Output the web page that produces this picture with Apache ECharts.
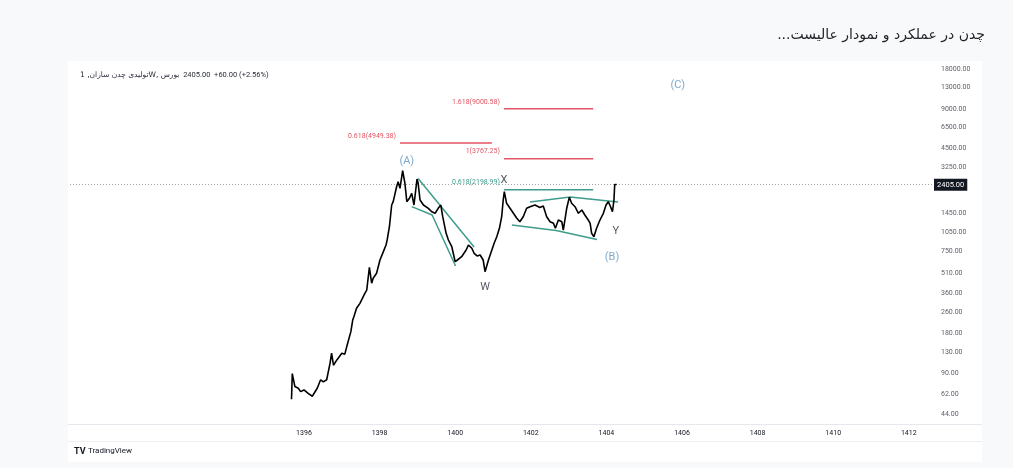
<!DOCTYPE html>
<html>
<head>
<meta charset="utf-8">
<script src="https://cdn.jsdelivr.net/npm/echarts@6/dist/echarts.min.js"></script>
<style>
  html, body { margin: 0; padding: 0; background: #f8f9fa; }
  #chart { width: 1013px; height: 468px; }
</style>
</head>
<body>
<div id="chart"></div>
<script>
// weekly close, solar hijri year on x, price on a log scale
const years = [
  1395.67, 1395.69, 1395.76, 1395.85, 1395.91, 1396.00, 1396.11, 1396.22, 1396.27, 1396.35,
  1396.44, 1396.51, 1396.60, 1396.69, 1396.73, 1396.78, 1396.87, 1397.00, 1397.08, 1397.13,
  1397.17, 1397.24, 1397.29, 1397.32, 1397.39, 1397.48, 1397.53, 1397.61, 1397.66, 1397.73,
  1397.79, 1397.83, 1397.92, 1398.01, 1398.10, 1398.17, 1398.20, 1398.26, 1398.32, 1398.36,
  1398.41, 1398.45, 1398.49, 1398.54, 1398.61, 1398.67, 1398.72, 1398.79, 1398.85, 1398.91,
  1398.99, 1399.02, 1399.07, 1399.16, 1399.29, 1399.38, 1399.47, 1399.55, 1399.62, 1399.67,
  1399.76, 1399.82, 1399.91, 1400.00, 1400.06, 1400.17, 1400.29, 1400.35, 1400.44, 1400.50,
  1400.58, 1400.66, 1400.74, 1400.79, 1400.88, 1400.97, 1401.03, 1401.10, 1401.17, 1401.23,
  1401.27, 1401.30, 1401.36, 1401.45, 1401.54, 1401.63, 1401.71, 1401.80, 1401.89, 1401.98,
  1402.11, 1402.24, 1402.33, 1402.42, 1402.51, 1402.60, 1402.65, 1402.73, 1402.82, 1402.86,
  1402.95, 1403.02, 1403.08, 1403.17, 1403.26, 1403.35, 1403.43, 1403.52, 1403.57, 1403.61,
  1403.67, 1403.74, 1403.83, 1403.92, 1403.99, 1404.05, 1404.11, 1404.16, 1404.20, 1404.22,
  1404.27
]
const prices = [
  57, 89, 71, 69, 65, 67, 63, 60, 61, 69,
  80, 77, 80, 107, 127, 103, 113, 127, 125, 142,
  147, 185, 227, 240, 278, 303, 294, 361, 382, 568,
  430, 469, 512, 645, 746, 838, 914, 1152, 1682, 1782,
  1733, 2314, 2526, 2251, 3059, 2456, 1782, 1891, 2063, 1682,
  2647, 2456, 1836, 1682, 1588, 1497, 1456, 1588, 1682, 1372,
  1027, 914, 813, 626, 645, 683, 768, 838, 791, 725,
  692, 704, 645, 526, 645, 768, 863, 968, 1121, 1372,
  1836, 2122, 1733, 1588, 1456, 1334, 1258, 1372, 1588, 1633,
  1680, 1610, 1650, 1372, 1258, 1223, 1121, 1295, 1258, 1088,
  1588, 1924, 1733, 1633, 1456, 1542, 1413, 1295, 1223, 1027,
  968, 1121, 1295, 1456, 1682, 1782, 1633, 1497, 1836, 2405,
  2405
]
const lastPrice = 2405
const priceTicks = [44, 62, 90, 130, 180, 260, 360, 510, 750, 1050, 1450, 3250, 4500, 6500, 9000, 13000, 18000]
const yearTicks = [1396, 1398, 1400, 1402, 1404, 1406, 1408, 1410, 1412]

// fibonacci levels drawn on the chart
const fibLabels = ['0.618(4949.38)', '1.618(9000.58)', '1(3767.25)', '0.618(2198.99)']
const fibValues = [4949.38, 9000.58, 3767.25, 2198.99]
const fibStart = [1398.54, 1401.29, 1401.29, 1401.29]
const fibEnd = [1400.97, 1403.65, 1403.65, 1403.65]

// trend lines [year, price]
const trendAWUpper = [[1399.02, 2670], [1400.50, 809]]
const trendAWLower = [[1398.85, 1634], [1399.39, 1413], [1400.01, 581]]
const trendBUpper = [[1401.98, 1773], [1403.04, 1934], [1404.31, 1773]]
const trendBLower = [[1401.50, 1187], [1402.67, 1079], [1403.75, 922]]

// wave labels
const waveNames = ['(A)', 'X', 'W', 'Y', '(B)', '(C)']
const waveYears = [1398.72, 1401.29, 1400.79, 1404.25, 1404.15, 1405.89]
const wavePrices = [3622, 2600, 403, 1069, 679, 13620]

const lg = Math.log10
const red = '#e25563'
const green = '#3f9c8c'
const blue = '#5f93bd'

const chart = echarts.init(document.getElementById('chart'))

const series = [
  {
    type: 'line',
    data: years.map((y, i) => [y, lg(prices[i])]),
    symbol: 'none',
    lineStyle: { color: '#000', width: 1.6 },
    z: 5,
    markLine: {
      silent: true,
      symbol: 'none',
      data: [{ yAxis: lg(lastPrice) }],
      lineStyle: { type: [1, 2], color: '#a0a3ab', width: 1 },
      label: {
        position: 'end',
        distance: 1,
        formatter: lastPrice.toFixed(2),
        color: '#fff',
        backgroundColor: '#131722',
        padding: [2, 3],
        fontSize: 7.5,
        fontFamily: 'Roboto'
      }
    }
  }
]

fibLabels.forEach((txt, i) => {
  const c = i === 3 ? green : red
  series.push({
    type: 'line',
    symbol: 'circle',
    symbolSize: 0.1,
    showSymbol: true,
    itemStyle: { color: c },
    lineStyle: { color: c, width: 1.5 },
    data: [
      {
        value: [fibStart[i], lg(fibValues[i])],
        label: {
          show: true, position: 'left', distance: 4, offset: [0, -7],
          formatter: txt, color: c, fontSize: 7, fontFamily: 'Roboto'
        }
      },
      [fibEnd[i], lg(fibValues[i])]
    ]
  })
})

;[trendAWUpper, trendAWLower, trendBUpper, trendBLower].forEach(pts => {
  series.push({
    type: 'line',
    symbol: 'none',
    lineStyle: { color: green, width: 1.5 },
    data: pts.map(p => [p[0], lg(p[1])])
  })
})

series.push({
  type: 'scatter',
  symbolSize: 0,
  data: waveNames.map((n, i) => ({
    value: [waveYears[i], lg(wavePrices[i])],
    label: {
      show: true, position: 'inside', formatter: n,
      color: n.startsWith('(') ? blue : '#2a2e39',
      fontSize: 11, fontFamily: 'Roboto'
    }
  }))
})

const option = {
  animation: false,
  grid: { left: 70, right: 80, top: 62, bottom: 44 },
  xAxis: {
    type: 'value',
    min: 1389.81,
    max: 1412.64,
    axisLine: { show: false },
    axisTick: { show: false },
    splitLine: { show: false },
    axisLabel: {
      customValues: yearTicks,
      formatter: v => String(Math.round(v)),
      color: '#131722',
      fontSize: 7,
      margin: 6,
      fontFamily: 'Roboto'
    }
  },
  yAxis: {
    type: 'value',
    position: 'right',
    min: 1.5681,
    max: 4.3084,
    axisLine: { show: false },
    axisTick: { show: false },
    splitLine: { show: false },
    axisLabel: {
      customValues: priceTicks.map(lg),
      formatter: v => Math.round(Math.pow(10, v)).toFixed(2),
      color: '#5d606b',
      fontSize: 7,
      margin: 8,
      fontFamily: 'Roboto'
    }
  },
  graphic: [
    { type: 'rect', z: -10, shape: { x: 68, y: 61, width: 914, height: 401 }, style: { fill: '#fff' } },
    { type: 'line', z: -9, shape: { x1: 68, y1: 424.5, x2: 982, y2: 424.5 }, style: { stroke: '#e6e8ee', lineWidth: 1 } },
    { type: 'line', z: -9, shape: { x1: 68, y1: 441.5, x2: 982, y2: 441.5 }, style: { stroke: '#eceef2', lineWidth: 1 } },
    {
      type: 'text', right: 28, top: 28,
      style: { text: '...چدن در عملکرد و نمودار عالیست', fontSize: 14, fontFamily: 'DejaVu Sans', fill: '#1f2328' }
    },
    {
      type: 'text', x: 80, y: 71,
      style: {
        text: '{a|تولیدی چدن سازان, 1W, بورس}{b|  2405.00  +60.00 (+2.56%)}',
        rich: {
          a: { fontSize: 7.5, fontFamily: 'DejaVu Sans', fill: '#2a2e39' },
          b: { fontSize: 7.5, fontFamily: 'Roboto', fill: '#2a2e39' }
        }
      }
    },
    { type: 'text', x: 74, y: 447, style: { text: 'TV', fontSize: 9, fontWeight: 'bold', fontFamily: 'Roboto', fill: '#131722' } },
    { type: 'text', x: 88, y: 447, style: { text: 'TradingView', fontSize: 8, fontFamily: 'Roboto', fill: '#131722' } }
  ],
  series: series
}

chart.setOption(option)
window.addEventListener('resize', () => chart.resize())
</script>
</body>
</html>
